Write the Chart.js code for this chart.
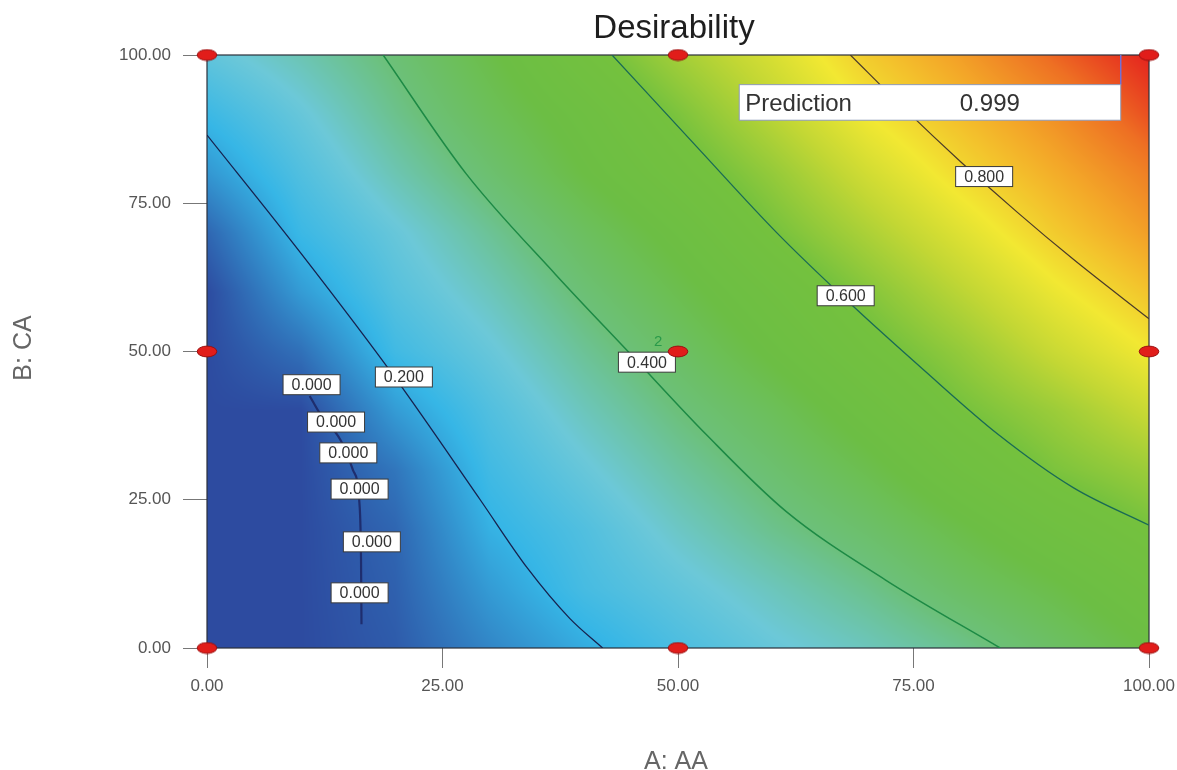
<!DOCTYPE html>
<html>
<head>
<meta charset="utf-8">
<script src="https://cdn.jsdelivr.net/npm/chart.js@4.4.0/dist/chart.umd.min.js"></script>
<style>
  html, body { margin: 0; padding: 0; background: #fff; overflow: hidden; }
  #wrap { width: 1177px; height: 770px; position: relative; }
  canvas { display: block; }
</style>
</head>
<body>
<div id="wrap"><canvas id="desirChart"></canvas></div>
<script>
// factor levels (A: AA, B: CA)
const gridA = [0, 10, 20, 30, 40, 50, 60, 70, 80, 90, 100];
const gridB = [0, 10, 20, 30, 40, 50, 60, 70, 80, 90, 100];

// desirability, one row per B level (B = 0 first)
const desirRows = [
  [0.00, 0.00, 0.03, 0.11, 0.18, 0.24, 0.29, 0.33, 0.38, 0.44, 0.50],
  [0.00, 0.00, 0.04, 0.15, 0.23, 0.28, 0.33, 0.38, 0.44, 0.49, 0.55],
  [0.00, 0.00, 0.05, 0.19, 0.25, 0.32, 0.38, 0.43, 0.49, 0.55, 0.60],
  [0.00, 0.00, 0.08, 0.22, 0.29, 0.36, 0.42, 0.48, 0.55, 0.61, 0.65],
  [0.00, 0.00, 0.15, 0.25, 0.33, 0.40, 0.46, 0.53, 0.60, 0.65, 0.71],
  [0.00, 0.07, 0.22, 0.29, 0.37, 0.44, 0.51, 0.58, 0.64, 0.71, 0.77],
  [0.00, 0.15, 0.26, 0.33, 0.41, 0.48, 0.55, 0.62, 0.69, 0.76, 0.82],
  [0.05, 0.21, 0.29, 0.37, 0.45, 0.52, 0.60, 0.67, 0.74, 0.81, 0.87],
  [0.14, 0.25, 0.34, 0.42, 0.50, 0.57, 0.64, 0.72, 0.79, 0.85, 0.91],
  [0.21, 0.29, 0.38, 0.46, 0.53, 0.61, 0.69, 0.77, 0.83, 0.89, 0.96],
  [0.28, 0.34, 0.41, 0.49, 0.58, 0.66, 0.73, 0.81, 0.87, 0.94, 1.00]
];

// contour lines
const c000A = [10.9, 12.0, 14.2, 15.5, 16.2, 16.35, 16.4];
const c000B = [42.5, 39.5, 35.0, 30.0, 24.0, 15.0, 4.0];
const c200A = [0, 10, 20, 29, 34, 38.5, 42];
const c200B = [86.5, 66.5, 45.5, 25, 13.5, 5, 0];
const c400A = [18.7, 27.5, 37, 45, 53, 61.5, 72, 84.2];
const c400B = [100, 80, 63, 49.5, 36, 23, 11.5, 0];
const c600A = [43, 52, 60.5, 68, 76, 84, 92, 100];
const c600B = [100, 84.5, 70, 58.5, 47, 36, 27, 20.7];
const c800A = [68.3, 74, 80, 86, 92, 100];
const c800B = [100, 91, 82, 73.5, 65.5, 55.5];

// contour labels
const labelText = ['0.000', '0.000', '0.000', '0.000', '0.000', '0.000', '0.200', '0.400', '0.600', '0.800'];
const labelA = [11.1, 13.7, 15.0, 16.2, 17.5, 16.2, 20.9, 46.7, 67.8, 82.5];
const labelB = [44.4, 38.1, 32.9, 26.8, 17.9, 9.3, 45.7, 48.2, 59.4, 79.5];

// design points
const designA = [0, 0, 0, 50, 50, 50, 100, 100, 100];
const designB = [0, 50, 100, 0, 50, 100, 0, 50, 100];

const tickValues = [0, 25, 50, 75, 100];
const predictionText = 'Prediction';
const predictionValue = '0.999';

// colour map stops
const colourStops = [
  [0.00, [45, 75, 160]],
  [0.20, [54, 182, 230]],
  [0.30, [108, 200, 216]],
  [0.40, [108, 192, 122]],
  [0.50, [108, 190, 68]],
  [0.60, [116, 193, 62]],
  [0.70, [195, 215, 52]],
  [0.77, [242, 232, 50]],
  [0.86, [243, 166, 40]],
  [0.93, [238, 112, 35]],
  [1.00, [228, 35, 30]]
];

function surfaceAt(a, b) {
  var fa = Math.max(0, Math.min(gridA.length - 1.0001, a / 10));
  var fb = Math.max(0, Math.min(gridB.length - 1.0001, b / 10));
  var i = Math.floor(fa), j = Math.floor(fb);
  var u = fa - i, v = fb - j;
  var r0 = desirRows[j], r1 = desirRows[j + 1];
  var top = r0[i] * (1 - u) + r0[i + 1] * u;
  var bot = r1[i] * (1 - u) + r1[i + 1] * u;
  return top * (1 - v) + bot * v;
}

function colourFor(d) {
  for (var k = 1; k < colourStops.length; k++) {
    if (d <= colourStops[k][0]) {
      var s0 = colourStops[k - 1], s1 = colourStops[k];
      var t = (d - s0[0]) / (s1[0] - s0[0]);
      return [0, 1, 2].map(function (n) { return s0[1][n] + (s1[1][n] - s0[1][n]) * t; });
    }
  }
  return colourStops[colourStops.length - 1][1];
}

function pts(xs, ys) {
  return xs.map(function (v, i) { return {x: v, y: ys[i]}; });
}

// red ellipse marker
var marker = document.createElement('canvas');
marker.width = 22; marker.height = 13;
(function () {
  var m = marker.getContext('2d');
  m.fillStyle = '#e11d1a';
  m.strokeStyle = '#9a1010';
  m.lineWidth = 1;
  m.beginPath();
  m.ellipse(11, 6.5, 9.8, 5.4, 0, 0, Math.PI * 2);
  m.fill();
  m.stroke();
})();

const surfacePlugin = {
  id: 'surface',
  beforeDatasetsDraw(chart) {
    const ctx = chart.ctx, ca = chart.chartArea;
    const xs = chart.scales.x, ys = chart.scales.y;
    const w = Math.round(ca.right - ca.left), h = Math.round(ca.bottom - ca.top);
    const off = document.createElement('canvas');
    off.width = w; off.height = h;
    const octx = off.getContext('2d');
    const img = octx.createImageData(w, h);
    for (let j = 0; j < h; j++) {
      const b = ys.getValueForPixel(ca.top + j + 0.5);
      for (let i = 0; i < w; i++) {
        const a = xs.getValueForPixel(ca.left + i + 0.5);
        const c = colourFor(surfaceAt(a, b));
        const k = (j * w + i) * 4;
        img.data[k] = c[0]; img.data[k + 1] = c[1]; img.data[k + 2] = c[2]; img.data[k + 3] = 255;
      }
    }
    octx.putImageData(img, 0, 0);
    ctx.drawImage(off, ca.left, ca.top);
    ctx.save();
    ctx.strokeStyle = '#2b2f3a';
    ctx.lineWidth = 1.2;
    ctx.strokeRect(ca.left, ca.top, ca.right - ca.left, ca.bottom - ca.top);
    ctx.restore();
  },
  afterDatasetDraw(chart, args) {
    if (args.index !== 1) return;
    const ctx = chart.ctx;
    const xs = chart.scales.x, ys = chart.scales.y;
    ctx.save();
    ctx.font = '16px "Liberation Sans", Arial, sans-serif';
    ctx.textAlign = 'center';
    ctx.textBaseline = 'middle';
    for (let i = 0; i < labelText.length; i++) {
      const px = xs.getPixelForValue(labelA[i]), py = ys.getPixelForValue(labelB[i]);
      ctx.fillStyle = '#ffffff';
      ctx.fillRect(px - 28.5, py - 10, 57, 20);
      ctx.strokeStyle = '#3a3a3a';
      ctx.lineWidth = 1;
      ctx.strokeRect(px - 28.5, py - 10, 57, 20);
      ctx.fillStyle = '#333';
      ctx.fillText(labelText[i], px, py + 1);
    }
    // replicate count at centre point
    ctx.fillStyle = '#2a9a4a';
    ctx.font = '15px "Liberation Sans", Arial, sans-serif';
    ctx.fillText('2', xs.getPixelForValue(47.9), ys.getPixelForValue(51.6));

    // prediction flag
    const l = xs.getPixelForValue(56.5), r = xs.getPixelForValue(97.0);
    const t = ys.getPixelForValue(95.0), btm = ys.getPixelForValue(89.0);
    ctx.strokeStyle = '#7070d8';
    ctx.lineWidth = 1.5;
    ctx.beginPath();
    ctx.moveTo(r, ys.getPixelForValue(100));
    ctx.lineTo(r, t);
    ctx.stroke();
    ctx.fillStyle = '#ffffff';
    ctx.fillRect(l, t, r - l, btm - t);
    ctx.strokeStyle = '#8e9ab8';
    ctx.lineWidth = 1;
    ctx.strokeRect(l, t, r - l, btm - t);
    ctx.fillStyle = '#333';
    ctx.font = '24px "Liberation Sans", Arial, sans-serif';
    ctx.textAlign = 'left';
    ctx.textBaseline = 'alphabetic';
    ctx.fillText(predictionText, l + 6, btm - 9);
    ctx.textAlign = 'center';
    ctx.fillText(predictionValue, xs.getPixelForValue(83.1), btm - 9);
    ctx.restore();
  },
  afterDraw(chart) {
    const ctx = chart.ctx;
    ctx.save();
    ctx.textAlign = 'center';
    ctx.fillStyle = '#1e1e1e';
    ctx.font = '33px "Liberation Sans", Arial, sans-serif';
    ctx.fillText('Desirability', 674, 38);
    ctx.fillStyle = '#666';
    ctx.font = '25px "Liberation Sans", Arial, sans-serif';
    ctx.fillText('A: AA', 676, 769);
    ctx.translate(31, 348);
    ctx.rotate(-Math.PI / 2);
    ctx.fillText('B: CA', 0, 0);
    ctx.restore();
  }
};

Chart.defaults.font.family = '"Liberation Sans", Arial, sans-serif';

const contourStyle = function (xs, ys, colour, width) {
  return {
    type: 'line',
    data: pts(xs, ys),
    borderColor: colour,
    borderWidth: width,
    pointRadius: 0,
    cubicInterpolationMode: 'monotone',
    fill: false
  };
};

new Chart(document.getElementById('desirChart'), {
  type: 'scatter',
  data: {
    datasets: [
      {
        data: pts(designA, designB),
        pointStyle: marker,
        clip: false
      },
      contourStyle(c000A, c000B, '#1e2d6e', 2.2),
      contourStyle(c200A, c200B, '#17224e', 1.3),
      contourStyle(c400A, c400B, '#1d8a45', 1.5),
      contourStyle(c600A, c600B, '#1a6a55', 1.3),
      contourStyle(c800A, c800B, '#4a3a2a', 1.2)
    ]
  },
  options: {
    responsive: true,
    maintainAspectRatio: false,
    animation: false,
    events: [],
    layout: {padding: {left: 0, right: 28, top: 55, bottom: 0}},
    plugins: {legend: {display: false}, tooltip: {enabled: false}},
    scales: {
      x: {
        type: 'linear', min: 0, max: 100,
        afterFit: function (s) { s.height = 122; s.paddingLeft = 0; s.paddingRight = 0; },
        afterBuildTicks: function (s) { s.ticks = tickValues.map(function (v) { return {value: v}; }); },
        ticks: {
          callback: function (v) { return v.toFixed(2); },
          color: '#555', font: {size: 17}, padding: 8, maxRotation: 0
        },
        grid: {drawOnChartArea: false, tickLength: 20, tickColor: '#777'},
        border: {display: false}
      },
      y: {
        type: 'linear', min: 0, max: 100,
        afterFit: function (s) { s.width = 207; s.paddingTop = 0; s.paddingBottom = 0; },
        afterBuildTicks: function (s) { s.ticks = tickValues.map(function (v) { return {value: v}; }); },
        ticks: {
          callback: function (v) { return v.toFixed(2); },
          color: '#555', font: {size: 17}, padding: 12
        },
        grid: {drawOnChartArea: false, tickLength: 24, tickColor: '#777'},
        border: {display: false}
      }
    }
  },
  plugins: [surfacePlugin]
});
</script>
</body>
</html>
